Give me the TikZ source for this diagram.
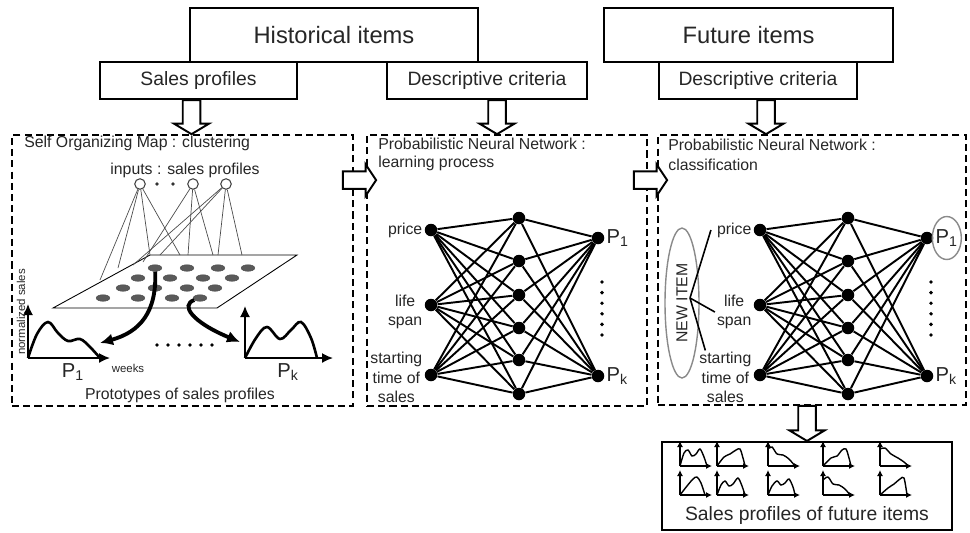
\documentclass[tikz,border=0pt]{standalone}
\usepackage{fontspec}
\setmainfont{Liberation Sans}
\usepackage{tikz}
\usetikzlibrary{arrows.meta,positioning,fit,calc,shapes.geometric}
\definecolor{cellgray}{HTML}{5A5A5A}
\definecolor{inkgray}{HTML}{262626}
\definecolor{ringgray}{HTML}{8A8A8A}
\tikzset{
  itembox/.style={rectangle, draw=black, line width=1.2pt, fill=white, inner sep=0pt, minimum height=1.08cm, text=inkgray, font=\fontsize{13.5}{16}\selectfont},
  critbox/.style={rectangle, draw=black, line width=1.2pt, fill=white, inner sep=0pt, minimum height=0.74cm, text=inkgray, font=\fontsize{11}{13}\selectfont},
  panel/.style={rectangle, draw=black, dash pattern=on 4pt off 2.4pt, line width=1pt, inner sep=0pt},
  paneltitle/.style={anchor=west, inner sep=0pt, align=left, text=inkgray, font=\fontsize{9}{11}\selectfont},
  txt/.style={inner sep=0pt, text=inkgray, font=\fontsize{9}{11}\selectfont},
  bigtxt/.style={inner sep=0pt, text=inkgray, font=\fontsize{11}{13}\selectfont},
  tinytxt/.style={inner sep=0pt, text=inkgray, font=\fontsize{6.5}{7}\selectfont},
  netlabel/.style={inner sep=1pt, align=center, text=inkgray, font=\fontsize{9}{11}\selectfont},
  outlabel/.style={inner sep=1pt, text=inkgray, font=\fontsize{11.5}{13}\selectfont},
  neuron/.style={circle, fill=black, inner sep=0pt, minimum size=0.25cm},
  wire/.style={line width=1.1pt},
  cell/.style={ellipse, fill=cellgray, draw=black!70, line width=0.3pt, inner sep=0pt, minimum width=0.27cm, minimum height=0.13cm},
  inputcell/.style={circle, draw=black!75, fill=white, line width=0.6pt, inner sep=0pt, minimum size=0.21cm},
  somwire/.style={line width=0.4pt, black!70},
  pick/.style={-{Latex[length=2.6mm,width=2.4mm]}, line width=2.2pt},
  plotaxis/.style={-{Latex[length=2.2mm,width=2mm]}, line width=0.9pt},
  miniaxis/.style={-{Latex[length=1.2mm,width=1.2mm]}, line width=0.7pt},
  fatarrow/.style={draw=black, fill=white, line width=1.1pt, line join=miter},
  ring/.style={ellipse, draw=ringgray, line width=0.8pt, inner sep=0pt},
}
\newcommand{\fatdown}[2]{%
  \draw[fatarrow] ($(#1)+(-5pt,0)$) -- ($(#2)+(-5pt,6pt)$) -- ($(#2)+(-10pt,6pt)$) -- (#2)
    -- ($(#2)+(10pt,6pt)$) -- ($(#2)+(5pt,6pt)$) -- ($(#1)+(5pt,0)$) -- cycle;}
\newcommand{\fatright}[2]{%
  \draw[fatarrow] ($(#1)+(0,5pt)$) -- ($(#2)+(-6pt,5pt)$) -- ($(#2)+(-6pt,9pt)$) -- (#2)
    -- ($(#2)+(-6pt,-9pt)$) -- ($(#2)+(-6pt,-5pt)$) -- ($(#1)+(0,-5pt)$) -- cycle;}
\newcommand{\miniplot}[3]{%
  \begin{scope}[shift={(#1,#2)}]
    \draw[miniaxis] (0,0) -- (0,-25);
    \draw[miniaxis] (0,0) -- (32,0);
    \draw[line width=0.8pt] plot[smooth, tension=0.5] coordinates {#3};
  \end{scope}}

\begin{document}
\begin{tikzpicture}[x=0.02cm, y=-0.02cm]
  \useasboundingbox (0,0) rectangle (970,532);
  \node[itembox, minimum width=5.76cm] (hist) at (334,35) {Historical items};
  \node[itembox, minimum width=5.78cm] (fut) at (748.5,35) {Future items};
  \node[critbox, minimum width=3.94cm] (salesprof) at (198.5,80.5) {Sales profiles};
  \node[critbox, minimum width=4cm] (desc1) at (487,80.5) {Descriptive criteria};
  \node[critbox, minimum width=3.96cm] (desc2) at (758,80.5) {Descriptive criteria};
  \node[panel, fit={(12,135) (353,406)}] (som) {};
  \node[panel, fit={(367,135) (647,406)}] (learn) {};
  \node[panel, fit={(658,135) (966,405)}] (classif) {};
  \node[critbox, minimum width=5.8cm, minimum height=1.76cm] (futprof) at (807,486) {};
  \node[bigtxt] (futlbl) at (807,515) {Sales profiles of future items};

  \coordinate (dn1) at ($(salesprof.south)+(-7,0)$);
  \coordinate (dn2) at ($(desc1.south)+(10,0)$);
  \coordinate (dn3) at ($(desc2.south)+(8,0)$);
  \coordinate (dn4) at (futprof.north |- classif.south);
  \fatdown{dn1}{dn1 |- som.north}
  \fatdown{dn2}{dn2 |- learn.north}
  \fatdown{dn3}{dn3 |- classif.north}
  \fatdown{dn4}{futprof.north}
  \coordinate (rt1) at ($(som.north east)+(-11,46)$);
  \coordinate (rt1e) at ($(learn.north west)+(10,46)$);
  \coordinate (rt2) at ($(learn.north east)+(-14,46)$);
  \coordinate (rt2e) at ($(classif.north west)+(10,46)$);
  \fatright{rt1}{rt1e}
  \fatright{rt2}{rt2e}

  \node[paneltitle] (somtitle) at (24,143) {Self Organizing Map : clustering};
  \node[txt] (inputs) at (185,170) {inputs : sales profiles};
  \node[inputcell] (in1) at (140,184) {};
  \node[inputcell] (in2) at (193,184) {};
  \node[inputcell] (in3) at (226,184) {};
  \fill[black!80] (157,184) circle (1.1pt) (173,184) circle (1.1pt);
  \draw[line width=0.5pt] (53,308) -- (217,308) -- (297,255) -- (150,255) -- cycle;
  \foreach \tx/\ty in {100/280,118/268,150/255,180/255}
    \draw[somwire] (in1) -- (\tx,\ty);
  \foreach \tx/\ty in {143/262,188/255,213/255}
    \draw[somwire] (in2) -- (\tx,\ty);
  \foreach \tx/\ty in {133/265,160/255,218/255,242/255}
    \draw[somwire] (in3) -- (\tx,\ty);
  \foreach \cx/\cy [count=\i] in {155/268,187/268,218/268,248/268,138/278,170/278,203/278,232/278,123/288,155/288,187/288,215/288,103/298,138/298,172/298,200/298}
    \node[cell] (cell\i) at (\cx,\cy) {};

  \coordinate (o1) at (28,358);
  \coordinate (ok) at (245,358);
  \draw[plotaxis] (o1) -- ++(0,-54);
  \draw[plotaxis] (o1) -- ++(82,0);
  \draw[plotaxis] (ok) -- ++(0,-52);
  \draw[plotaxis] (ok) -- ++(88,0);
  \draw[line width=1.5pt] plot[smooth, tension=0.6] coordinates {(28,358) (37,334) (48,322) (58,333) (68,341) (80,339) (90,347) (100,358)};
  \draw[line width=1.5pt] plot[smooth, tension=0.6] coordinates {(245,358) (256,338) (267,327) (280,339) (291,330) (301,322) (311,338) (317,358)};
  \node[tinytxt, rotate=90] (ylbl) at (21,312) {normalized sales};
  \node[tinytxt] (xlbl) at (128,368) {weeks};
  \node[outlabel] (p1lbl) at (73,372) {P\textsubscript{1}};
  \node[outlabel] (pklbl) at (288,372) {P\textsubscript{k}};
  \node[txt] (proto) at (180,395) {Prototypes of sales profiles};
  \foreach \k in {0,...,5}
    \fill (157+\k*11,345) circle (1.1pt);
  \coordinate (p1tip) at (100,343);
  \coordinate (pktip) at (240,342);
  \draw[pick] (cell1) .. controls (157,312) and (140,332) .. (p1tip);
  \draw[pick] (cell16) .. controls (180,305) and (192,322) .. (pktip);

  \node[paneltitle] (learntitle) at (378,144) {Probabilistic Neural Network :};
  \node[paneltitle] (learnsub) at (378,163) {learning process};
  \node[paneltitle] (classtitle) at (668,145) {Probabilistic Neural Network :};
  \node[paneltitle] (classsub) at (668,165) {classification};

  \foreach \p/\dx in {l/0, r/329}{
    \foreach \y [count=\i] in {230,305,375}
      \node[neuron] (\p-in\i) at (431+\dx,\y) {};
    \foreach \y [count=\j] in {218,261,295,328,360,394}
      \node[neuron] (\p-hid\j) at (519+\dx,\y) {};
    \node[neuron] (\p-out1) at (598+\dx,238) {};
    \node[neuron] (\p-out2) at (598+\dx,376) {};
    \foreach \i in {1,2,3}
      \foreach \j in {1,...,6}
        \draw[wire] (\p-in\i) -- (\p-hid\j);
    \foreach \j in {1,...,6}
      \foreach \k in {1,2}
        \draw[wire] (\p-hid\j) -- (\p-out\k);
    \node[netlabel, left=0pt of \p-in1] (\p-price) {price};
    \node[netlabel, left=0pt of \p-in2, yshift=-4pt] (\p-life) {life\\span};
    \node[netlabel, left=0pt of \p-in3, yshift=-1.5pt] (\p-start) {starting\\time of\\sales};
    \node[outlabel, right=0pt of \p-out1] (\p-p1) {P\textsubscript{1}};
    \node[outlabel, right=0pt of \p-out2] (\p-pk) {P\textsubscript{k}};
    \foreach \k in {0,...,5}
      \fill (602+\dx,282+\k*10.6) circle (1.1pt);
  }

  \node[ring, minimum width=0.58cm, minimum height=0.86cm] (p1ring) at (r-p1) {};
  \node[ring, rotate=90, minimum width=3cm, minimum height=0.68cm, text=inkgray, font=\fontsize{9}{11}\selectfont] (newitem) at (682,303) {NEW ITEM};
  \coordinate (fan) at (690,298);
  \draw[line width=0.9pt] (fan) -- ($(r-price.west)+(-4,0)$);
  \draw[line width=0.9pt] (fan) -- (r-life.west);
  \draw[line width=0.9pt] (fan) -- ($(r-start.north west)+(8,0)$);

  \miniplot{680}{466}{(0,0) (4,-13) (8,-16) (12,-10) (16,-12) (20,-17) (24,-9) (27,0)}
  \miniplot{717}{466}{(0,0) (7,-9) (13,-12) (19,-16) (23,-17) (26,-8) (28,0)}
  \miniplot{768}{466}{(0,-17) (4,-19) (9,-12) (15,-11) (21,-7) (27,0)}
  \miniplot{823}{466}{(0,0) (8,-8) (14,-10) (19,-16) (23,-17) (26,-8) (28,0)}
  \miniplot{880}{466}{(0,-17) (5,-18) (11,-12) (18,-8) (24,-4) (28,0)}
  \miniplot{680}{495}{(0,0) (7,-9) (13,-16) (17,-18) (21,-12) (25,0)}
  \miniplot{717}{495}{(0,0) (4,-10) (8,-14) (12,-9) (16,-11) (21,-17) (25,-9) (28,0)}
  \miniplot{768}{495}{(0,0) (4,-9) (9,-14) (13,-10) (17,-12) (21,-16) (25,-8) (27,0)}
  \miniplot{823}{495}{(0,-15) (5,-18) (10,-11) (16,-10) (22,-6) (27,0)}
  \miniplot{880}{495}{(0,0) (8,-7) (14,-11) (20,-16) (24,-17) (27,0)}
\end{tikzpicture}
\end{document}
